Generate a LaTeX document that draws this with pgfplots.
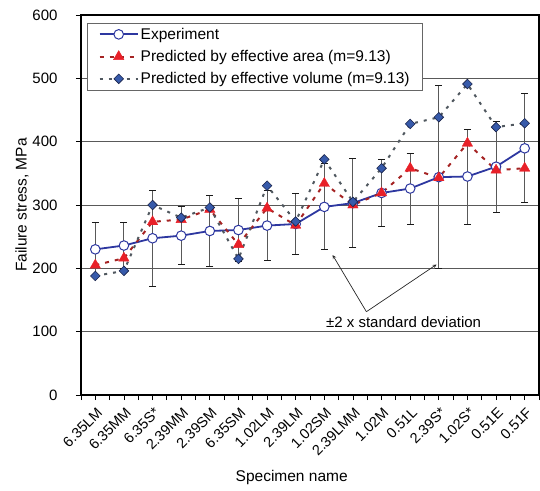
\documentclass[border=0pt]{standalone}
\usepackage{fontspec}
\setmainfont{Liberation Sans}
\usepackage{pgfplots}
\usepackage{pgfplotstable}
\pgfplotsset{compat=1.18}

\definecolor{expblue}{RGB}{45,55,160}
\definecolor{arealine}{RGB}{165,35,35}
\definecolor{areafill}{RGB}{232,32,40}
\definecolor{volline}{RGB}{80,88,95}
\definecolor{volfill}{RGB}{55,90,170}
\definecolor{voledge}{RGB}{25,35,75}

% x = specimen index, exp = measured mean, err = 2 x standard deviation
\pgfplotstableread{
x  exp   err  area   vol
0  230   42   205    188
1  236   36   216    196
2  247.5 76   273.5  300
3  251.6 46   277    280
4  259   56   293    296
5  260.5 49   237.5  215
6  267.5 55   295    330.5
7  270   48   268    274
8  297   68   334    372
9  303   70   300    305
10 319   53   319    358
11 326   56   358    428
12 344   145  343    438.5
13 345   75   397.5  491
14 360.5 72   355    423
15 389.5 86   358    429
}\spec

\begin{document}
\begin{tikzpicture}
\begin{axis}[
    at={(0,0)}, anchor=south west,
    scale only axis,
    width=458pt, height=380pt,
    xmin=-0.5, xmax=15.5,
    ymin=0, ymax=600,
    ytick={0,100,...,600},
    xtick={0,...,15},
    minor xtick={-0.5,0.5,...,15.5},
    xticklabels={6.35LM,6.35MM,6.35S*,2.39MM,2.39SM,6.35SM,1.02LM,2.39LM,1.02SM,2.39LMM,1.02M,0.51L,2.39S*,1.02S*,0.51E,0.51F},
    xtick pos=bottom, ytick pos=left,
    tick align=outside,
    major tick length=5pt, minor tick length=5pt,
    tick style={black, line width=0.8pt},
    axis line style={black, line width=1.1pt},
    ymajorgrids,
    grid style={black!65, line width=0.8pt},
    /pgf/number format/assume math mode=true,
    ticklabel style={font=\fontsize{15}{18}\selectfont},
    xticklabel style={rotate=45, anchor=north east, inner sep=1pt, xshift=-3pt, yshift=-4pt,
        font=\fontsize{14.5}{17}\selectfont},
    yticklabel style={xshift=-15pt},
    xlabel={Specimen name},
    ylabel={Failure stress, MPa},
    label style={font=\fontsize{15.5}{18}\selectfont},
    xlabel style={at={(axis description cs:0.46,0)}, anchor=center, yshift=-82pt},
    ylabel style={at={(axis description cs:-0.129,0.5)}, anchor=center},
    legend style={at={(axis description cs:0.0138,0.98)}, anchor=north west,
        draw=black!60, line width=0.8pt, fill=white,
        font=\fontsize{15.5}{18}\selectfont, row sep=5.5pt,
        inner xsep=11pt, inner ysep=3pt},
    legend cell align=left,
    legend image code/.code={%
        \draw[mark repeat=2,mark phase=2,#1]
        plot coordinates {(0pt,0pt) (19pt,0pt) (38pt,0pt)};},
    clip=false,
]
% error bars: +/- 2 standard deviation
\addplot[only marks, mark=none, forget plot,
    error bars/.cd, y dir=both, y explicit,
    error bar style={draw=black!65, line width=1.1pt},
    error mark options={rotate=90, mark size=3.5pt, draw=black!90, line width=1pt}]
    table[x=x, y=exp, y error=err]{\spec};

\addplot[color=expblue, line width=1.8pt,
    mark=*, mark size=4.8pt,
    mark options={fill=white, draw=expblue, line width=1pt, solid}]
    table[x=x, y=exp]{\spec};
\addlegendentry{Experiment}

\addplot[color=arealine, line width=2pt, dash pattern=on 4pt off 6pt,
    mark=triangle*, mark size=6pt,
    mark options={fill=areafill, draw=areafill, line width=0.4pt, solid}]
    table[x=x, y=area]{\spec};
\addlegendentry{Predicted by effective area (m=9.13)}

\addplot[color=volline, line width=2pt, dash pattern=on 3pt off 6pt,
    mark=square*, mark size=3.4pt,
    mark options={rotate=45, fill=volfill, draw=voledge, line width=0.6pt, solid}]
    table[x=x, y=vol]{\spec};
\addlegendentry{Predicted by effective volume (m=9.13)}

% annotation
\draw[-stealth, black!85, line width=0.7pt] (axis cs:9.47,131.5) -- (axis cs:8.29,221);
\draw[-stealth, black!85, line width=0.7pt] (axis cs:9.47,131.5) -- (axis cs:11.92,206);
\node[font=\fontsize{15}{18}\selectfont, inner sep=1pt] at (axis cs:10.77,115) {±2 x standard deviation};
\end{axis}
\pgfresetboundingbox
\path[use as bounding box] (-81pt,-95pt) rectangle (459pt,395pt);
\end{tikzpicture}
\end{document}
